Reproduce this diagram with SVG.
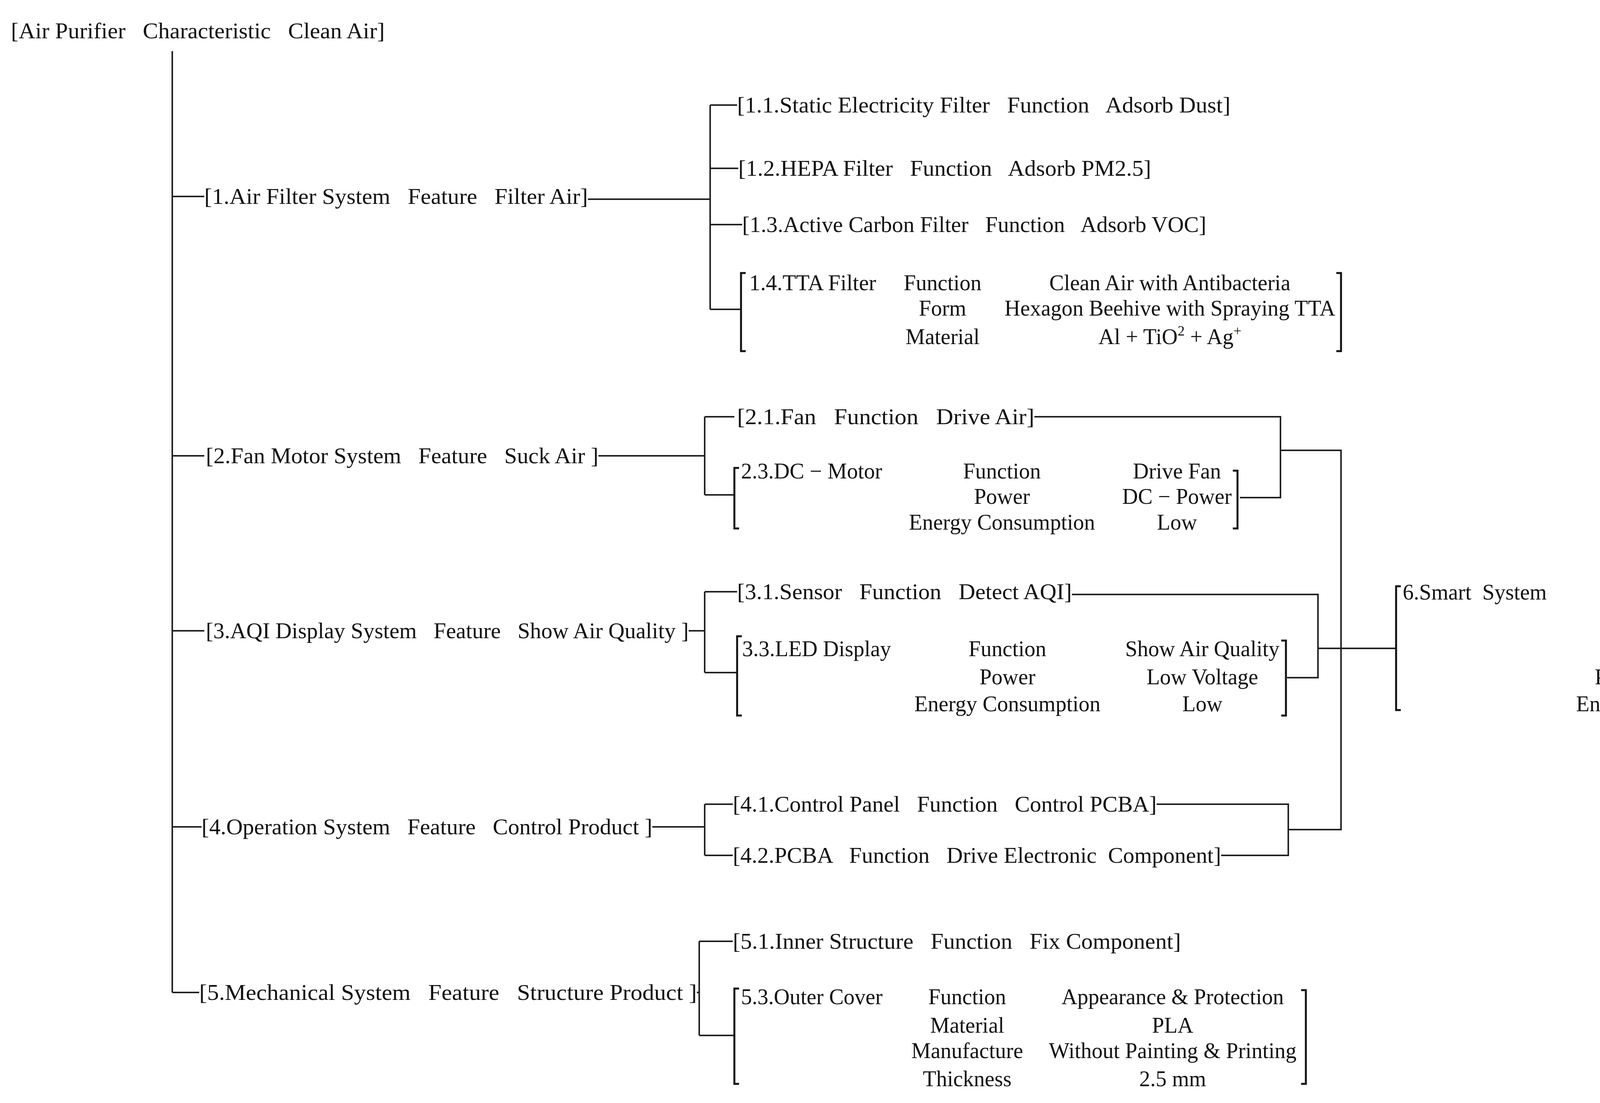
<svg xmlns="http://www.w3.org/2000/svg" width="5399" height="2824" viewBox="0 0 5399 2824">
<style>
text{font-family:"Liberation Serif","DejaVu Serif",serif;font-size:56px;fill:#111;white-space:pre}
.m{text-anchor:middle}
.c{stroke:#222;stroke-width:4;fill:none}
.b{stroke:#111;stroke-width:5;fill:none}
</style>
<rect width="5399" height="2824" fill="#fff"/>
<g id="connectors">
<path class="c" d="M441 131V2541M441 503H523M441 1167H523M441 1615H523M441 2117H516M441 2541H510"/>
<path class="c" d="M1505 510H1818M1818 269V792M1818 269H1887M1818 431H1890M1818 575H1900M1818 792H1897"/>
<path class="c" d="M1532 1167H1804M1804 1067V1267M1804 1067H1880M1804 1267H1880M2648 1067H3278V1274H3174M3278 1153H3433V2124H3298M3374 1660H3574"/>
<path class="c" d="M1763 1615H1804M1804 1515V1722M1804 1515H1887M1804 1722H1887M2744 1522H3374V1735H3295"/>
<path class="c" d="M1670 2117H1804M1804 2059V2190M1804 2059H1876M1804 2190H1876M2961 2059H3298V2190H3126"/>
<path class="c" d="M1784 2541H1790M1790 2410V2651M1790 2410H1876M1790 2651H1880"/>
</g>
<g id="root"><text x="28" y="98" textLength="957" lengthAdjust="spacingAndGlyphs">[Air Purifier   Characteristic   Clean Air]</text></g>
<g id="n1"><text x="523" y="522" textLength="982" lengthAdjust="spacingAndGlyphs">[1.Air Filter System   Feature   Filter Air]</text></g>
<g id="n11"><text x="1887" y="288" textLength="1263" lengthAdjust="spacingAndGlyphs">[1.1.Static Electricity Filter   Function   Adsorb Dust]</text></g>
<g id="n12"><text x="1890" y="450" textLength="1057" lengthAdjust="spacingAndGlyphs">[1.2.HEPA Filter   Function   Adsorb PM2.5]</text></g>
<g id="n13"><text x="1900" y="594" textLength="1188" lengthAdjust="spacingAndGlyphs">[1.3.Active Carbon Filter   Function   Adsorb VOC]</text></g>
<g id="n14">
<path class="b" d="M1909 699H1897V899H1909M3421 699H3433V899H3421"/>
<text x="1918" y="743" textLength="325" lengthAdjust="spacingAndGlyphs">1.4.TTA Filter</text>
<text class="m" x="2413" y="743">Function</text><text class="m" x="2413" y="808">Form</text><text class="m" x="2413" y="881">Material</text>
<text class="m" x="2995" y="743">Clean Air with Antibacteria</text>
<text class="m" x="2995" y="808">Hexagon Beehive with Spraying TTA</text>
<text class="m" x="2995" y="881">Al + TiO<tspan font-size="36" dy="-22">2</tspan><tspan dy="22"> + Ag</tspan><tspan font-size="36" dy="-22">+</tspan></text>
</g>
<g id="n2"><text x="527" y="1186" textLength="1005" lengthAdjust="spacingAndGlyphs">[2.Fan Motor System   Feature   Suck Air ]</text></g>
<g id="n21"><text x="1887" y="1086" textLength="761" lengthAdjust="spacingAndGlyphs">[2.1.Fan   Function   Drive Air]</text></g>
<g id="n23">
<path class="b" d="M1892 1198H1880V1353H1892M3156 1205H3168V1353H3156"/>
<text x="1897" y="1225">2.3.DC − Motor</text>
<text class="m" x="2565" y="1225">Function</text><text class="m" x="2565" y="1290">Power</text><text class="m" x="2565" y="1356">Energy Consumption</text>
<text class="m" x="3013" y="1225">Drive Fan</text><text class="m" x="3013" y="1290">DC − Power</text><text class="m" x="3013" y="1356">Low</text>
</g>
<g id="n3"><text x="527" y="1634" textLength="1236" lengthAdjust="spacingAndGlyphs">[3.AQI Display System   Feature   Show Air Quality ]</text></g>
<g id="n31"><text x="1887" y="1534" textLength="857" lengthAdjust="spacingAndGlyphs">[3.1.Sensor   Function   Detect AQI]</text></g>
<g id="n33">
<path class="b" d="M1899 1629H1887V1832H1899M3280 1640H3292V1832H3280"/>
<text x="1900" y="1680">3.3.LED Display</text>
<text class="m" x="2579" y="1680">Function</text><text class="m" x="2579" y="1752">Power</text><text class="m" x="2579" y="1821">Energy Consumption</text>
<text class="m" x="3078" y="1680">Show Air Quality</text><text class="m" x="3078" y="1752">Low Voltage</text><text class="m" x="3078" y="1821">Low</text>
</g>
<g id="n4"><text x="516" y="2136" textLength="1154" lengthAdjust="spacingAndGlyphs">[4.Operation System   Feature   Control Product ]</text></g>
<g id="n41"><text x="1876" y="2078" textLength="1085" lengthAdjust="spacingAndGlyphs">[4.1.Control Panel   Function   Control PCBA]</text></g>
<g id="n42"><text x="1876" y="2209" textLength="1250" lengthAdjust="spacingAndGlyphs">[4.2.PCBA   Function   Drive Electronic  Component]</text></g>
<g id="n5"><text x="510" y="2560" textLength="1274" lengthAdjust="spacingAndGlyphs">[5.Mechanical System   Feature   Structure Product ]</text></g>
<g id="n51"><text x="1876" y="2429" textLength="1147" lengthAdjust="spacingAndGlyphs">[5.1.Inner Structure   Function   Fix Component]</text></g>
<g id="n53">
<path class="b" d="M1892 2531H1880V2775H1892M3331 2535H3343V2775H3331"/>
<text x="1897" y="2571">5.3.Outer Cover</text>
<text class="m" x="2476" y="2571">Function</text><text class="m" x="2476" y="2644">Material</text><text class="m" x="2476" y="2709">Manufacture</text><text class="m" x="2476" y="2781">Thickness</text>
<text class="m" x="3002" y="2571">Appearance &amp; Protection</text><text class="m" x="3002" y="2644">PLA</text><text class="m" x="3002" y="2709">Without Painting &amp; Printing</text><text class="m" x="3002" y="2781">2.5 mm</text>
</g>
<g id="n6">
<path class="b" d="M3586 1501H3574V1818H3586M5328 1501H5340V1818H5328"/>
<text x="3591" y="1535">6.Smart  System</text>
<text class="m" x="4273" y="1535">Function</text><text class="m" x="4273" y="1680">Driver</text><text class="m" x="4273" y="1752">Power /Frequecy</text><text class="m" x="4273" y="1821">Energy Consumption</text>
<text class="m" x="4948" y="1535" textLength="737" lengthAdjust="spacingAndGlyphs">Drive  Fan &amp; Autocontrol Motor</text><text class="m" x="4948" y="1607">Speed by Sensor Detecting</text><text class="m" x="4948" y="1680">Sensor</text><text class="m" x="4948" y="1752">DC − Power/Randon</text><text class="m" x="4948" y="1821">Lowest</text>
</g>
</svg>
